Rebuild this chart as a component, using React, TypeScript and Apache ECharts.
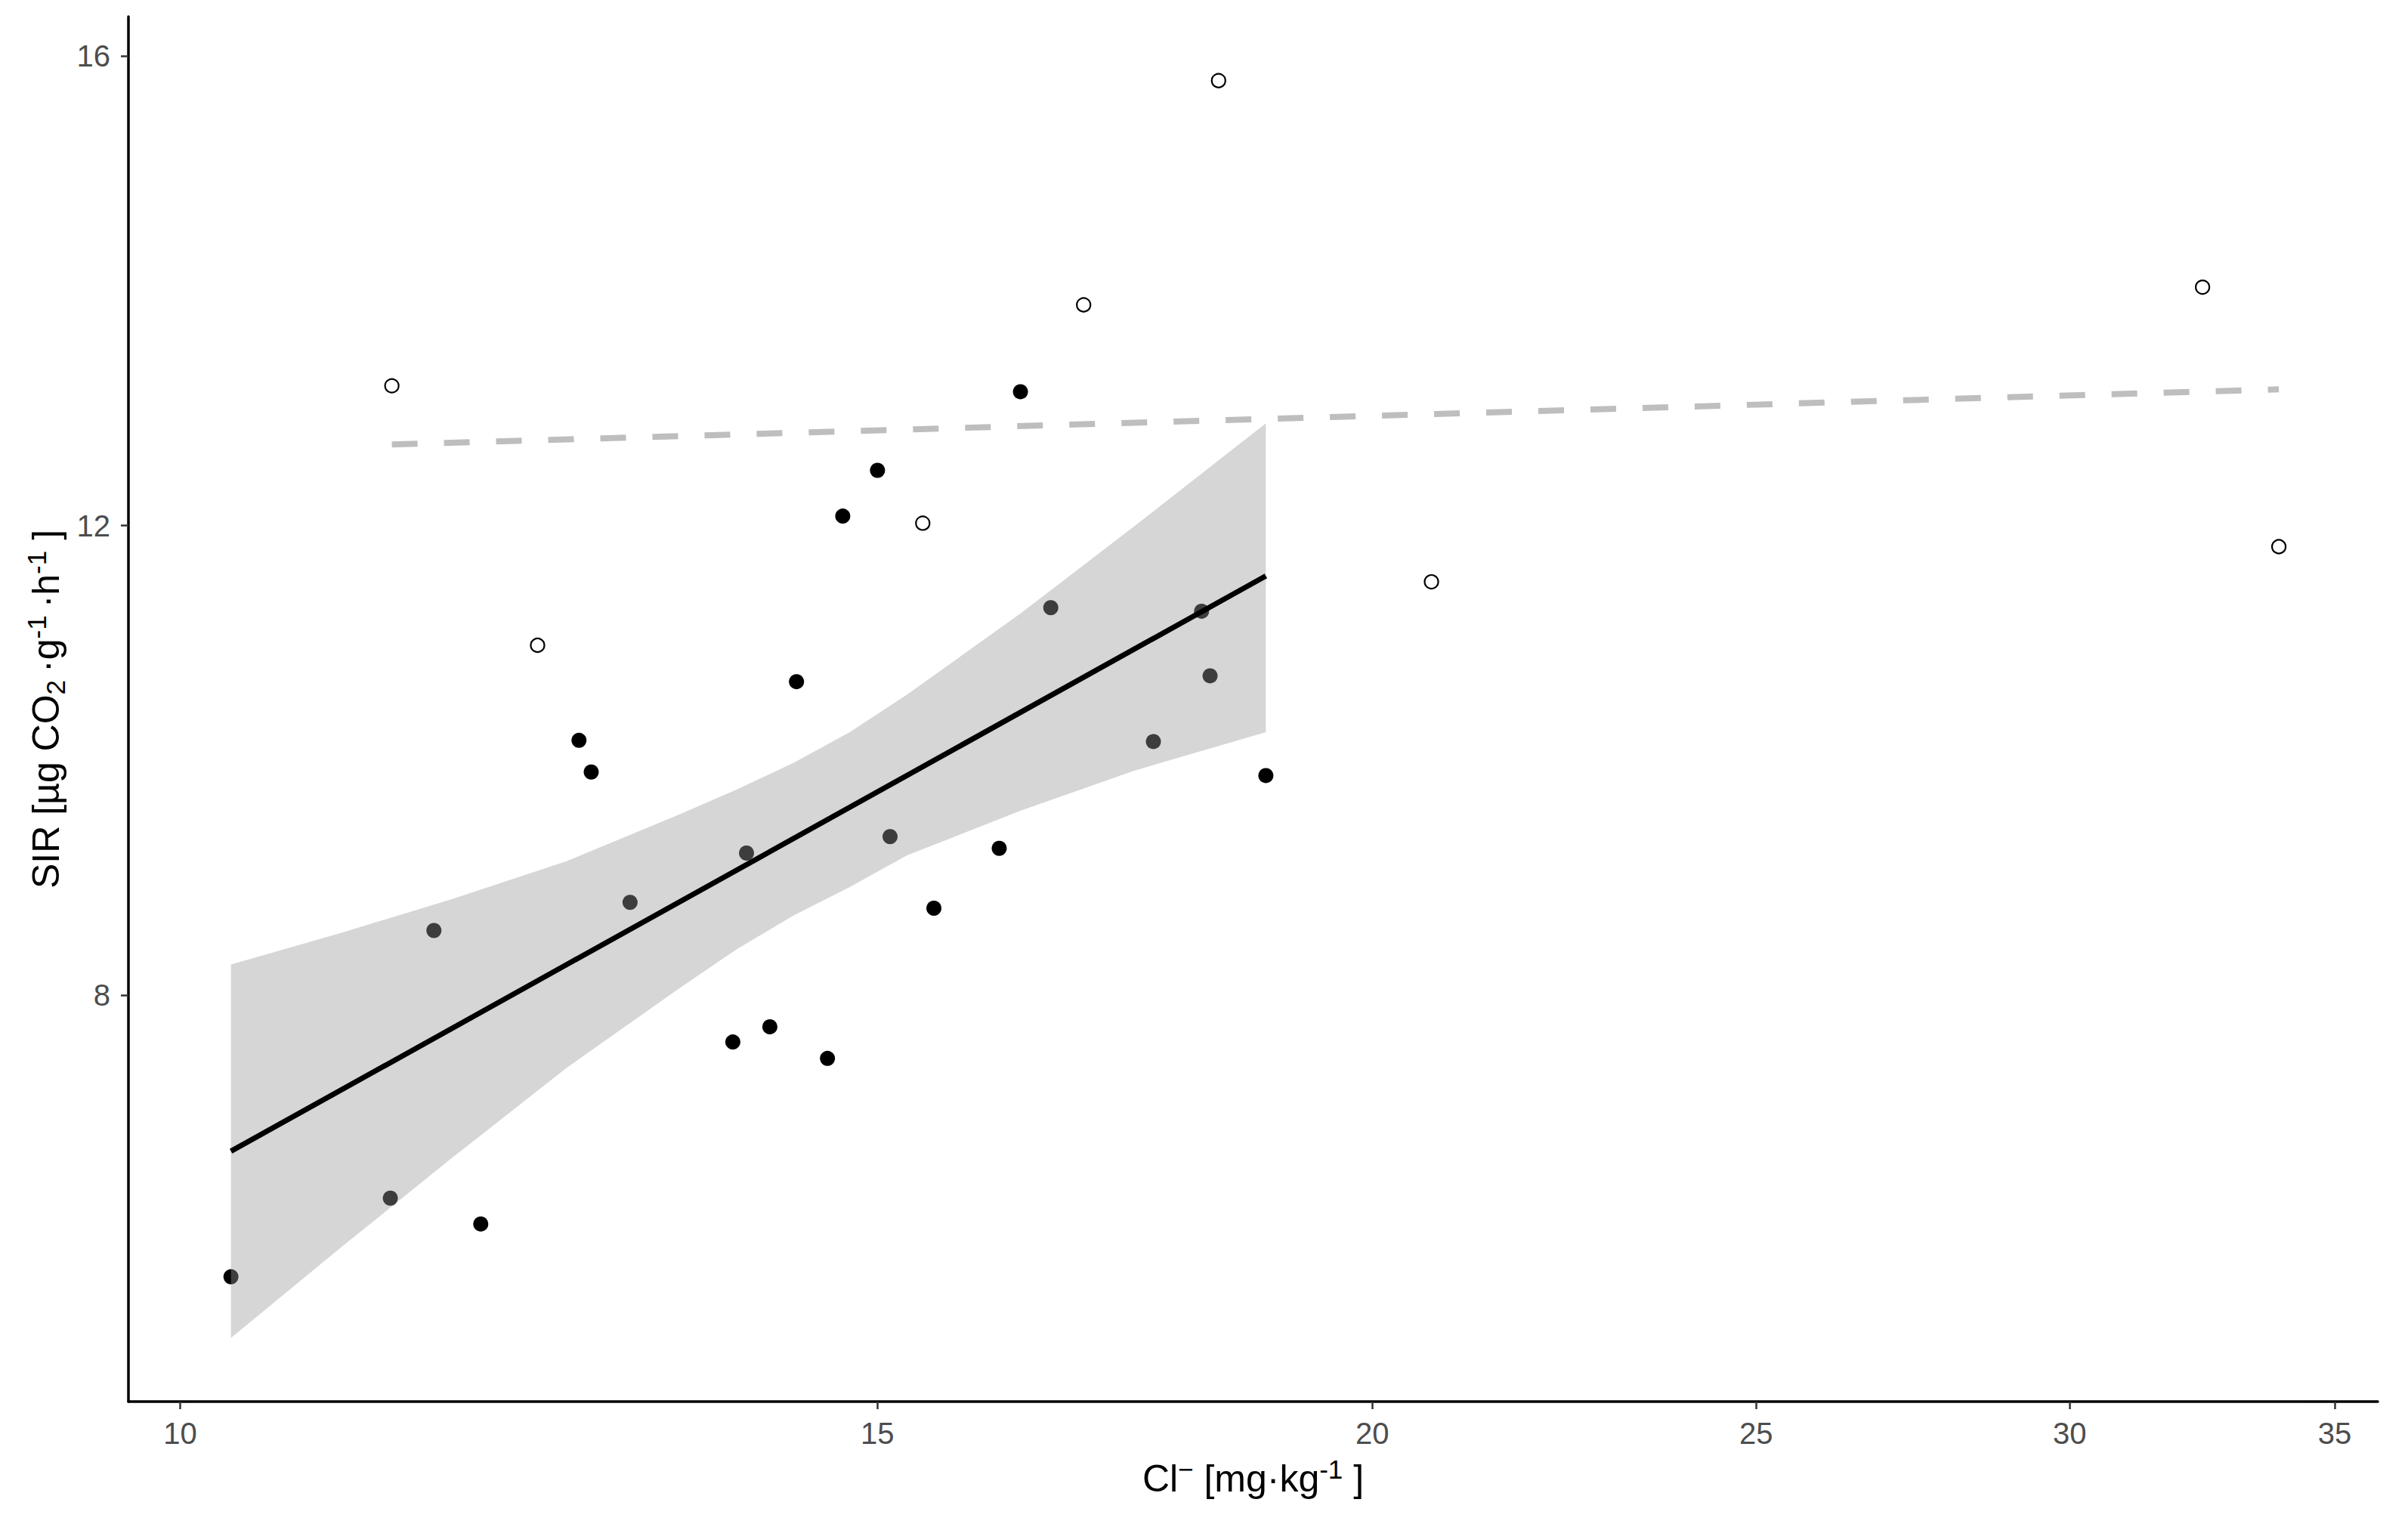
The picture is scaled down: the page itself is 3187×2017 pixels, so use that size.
import React, { useEffect, useRef } from 'react';
import * as echarts from 'echarts';

const FONT = '"Liberation Sans", Arial, Helvetica, sans-serif';

// Filled (black) observations; those lying inside the confidence band look grey through it
const filledX = [11.91, 12.61, 12.70, 13.79, 14.09, 14.31, 14.57, 14.70, 15.00, 15.50, 16.10, 16.30, 18.80,
  10.30, 11.30, 11.59, 12.99, 13.90, 15.11, 16.59, 17.61, 18.11, 18.20];
const filledY = [6.05, 10.17, 9.90, 7.60, 7.73, 10.67, 7.46, 12.08, 12.47, 8.74, 9.25, 13.14, 9.87,
  5.60, 6.27, 8.55, 8.79, 9.21, 9.35, 11.30, 10.16, 11.27, 10.72];

// Open-circle observations
const openX = [11.31, 12.31, 15.40, 16.91, 18.29, 20.70, 32.41, 33.88];
const openY = [13.19, 10.98, 12.02, 13.88, 15.79, 11.52, 14.03, 11.82];

// Fitted line for filled points (solid) and open points (dashed)
const fitX = [10.30, 18.80];
const fitY = [6.67, 11.57];
const dashX = [11.31, 33.88];
const dashY = [12.69, 13.16];

// Confidence band of the solid fit
const bandX = [10.30, 10.98, 11.72, 12.52, 13.37, 13.82, 14.29, 14.76, 15.26, 16.30, 17.41, 18.80];
const bandUpper = [8.26, 8.53, 8.82, 9.14, 9.54, 9.75, 9.98, 10.24, 10.56, 11.25, 11.99, 12.87];
const bandLower = [5.08, 5.85, 6.62, 7.38, 8.06, 8.39, 8.68, 8.92, 9.19, 9.57, 9.91, 10.24];

// Axis ticks
const xTicks = [10, 15, 20, 25, 30, 35];
const yTicks = [8, 12, 16];

const richStyles = {
  n: { fontSize: 50, fontFamily: FONT, color: '#000', lineHeight: 60 },
  sup: { fontSize: 35, fontFamily: FONT, color: '#000', lineHeight: 40, verticalAlign: 'top' },
  sub: { fontSize: 35, fontFamily: FONT, color: '#000', lineHeight: 26, verticalAlign: 'bottom' },
};

export default function App() {
  const ref = useRef<HTMLDivElement>(null);

  useEffect(() => {
    if (!ref.current) return;
    const chart = echarts.init(ref.current, null, { renderer: 'svg' });
    const option: any = {
      animation: false,
      backgroundColor: '#ffffff',
      grid: { left: 170, right: 40, top: 22, bottom: 162, containLabel: false, outerBoundsMode: 'none' },
      xAxis: {
        type: 'log',
        logBase: 10,
        min: 9.704,
        max: 35.886,
        axisLine: { show: true, onZero: false, lineStyle: { color: '#000', width: 3.5 } },
        axisTick: { show: true, customValues: xTicks, length: 10, lineStyle: { color: '#333333', width: 2.5 } },
        axisLabel: {
          customValues: xTicks,
          formatter: (v: number) => String(Math.round(v)),
          color: '#4d4d4d',
          fontSize: 40,
          fontFamily: FONT,
          margin: 22,
        },
        splitLine: { show: false },
        minorTick: { show: false },
        minorSplitLine: { show: false },
        name: '{n|Cl}{sup|−}{n| [mg·kg}{sup|-1}{n| ]}',
        nameLocation: 'middle',
        nameGap: 72,
        nameTextStyle: { fontSize: 50, fontFamily: FONT, color: '#000', rich: richStyles },
      },
      yAxis: {
        type: 'value',
        min: 4.537,
        max: 16.335,
        axisLine: { show: true, onZero: false, lineStyle: { color: '#000', width: 3.5 } },
        axisTick: { show: true, customValues: yTicks, length: 10, lineStyle: { color: '#333333', width: 2.5 } },
        axisLabel: {
          customValues: yTicks,
          formatter: (v: number) => String(Math.round(v)),
          color: '#4d4d4d',
          fontSize: 40,
          fontFamily: FONT,
          margin: 24,
        },
        splitLine: { show: false },
        name: '{n|SIR [µg CO}{sub|2}{n|\u2009·g}{sup|-1}{n|\u2009·h}{sup|-1}{n| ]}',
        nameLocation: 'middle',
        nameRotate: 90,
        nameGap: 76,
        nameTextStyle: { fontSize: 50, fontFamily: FONT, color: '#000', rich: richStyles },
      },
      series: [
        {
          type: 'scatter',
          name: 'filled',
          data: filledX.map((x, i) => [x, filledY[i]]),
          symbol: 'circle',
          symbolSize: 20,
          itemStyle: { color: '#000000', opacity: 1 },
          z: 2,
        },
        {
          type: 'scatter',
          name: 'open',
          data: openX.map((x, i) => [x, openY[i]]),
          symbol: 'circle',
          symbolSize: 18,
          itemStyle: { color: 'rgba(0,0,0,0)', borderColor: '#000000', borderWidth: 2.2, opacity: 1 },
          z: 2,
        },
        {
          type: 'custom',
          name: 'band',
          data: bandX.map((x, i) => [x, bandUpper[i], bandLower[i]]),
          encode: { x: 0, y: [1, 2] },
          renderItem: (params: any, api: any) => {
            if (params.dataIndex !== 0) return null;
            const upper = bandX.map((x, i) => api.coord([x, bandUpper[i]]));
            const lower = bandX.map((x, i) => api.coord([x, bandLower[i]])).reverse();
            return {
              type: 'polygon',
              shape: { points: upper.concat(lower) },
              style: { fill: 'rgba(153,153,153,0.4)', stroke: null },
            };
          },
          z: 3,
        },
        {
          type: 'line',
          name: 'fit',
          data: fitX.map((x, i) => [x, fitY[i]]),
          symbol: 'none',
          showSymbol: false,
          lineStyle: { color: '#000000', width: 7 },
          z: 4,
        },
        {
          type: 'line',
          name: 'fitOpen',
          data: dashX.map((x, i) => [x, dashY[i]]),
          symbol: 'none',
          showSymbol: false,
          lineStyle: { color: '#bebebe', width: 8, type: [34, 35], cap: 'butt' },
          z: 4,
        },
      ],
    };
    chart.setOption(option);
    return () => chart.dispose();
  }, []);

  return (
    <div
      ref={ref}
      style={{ position: 'absolute', left: 0, top: 0, width: 3187, height: 2017, background: '#fff' }}
    />
  );
}
